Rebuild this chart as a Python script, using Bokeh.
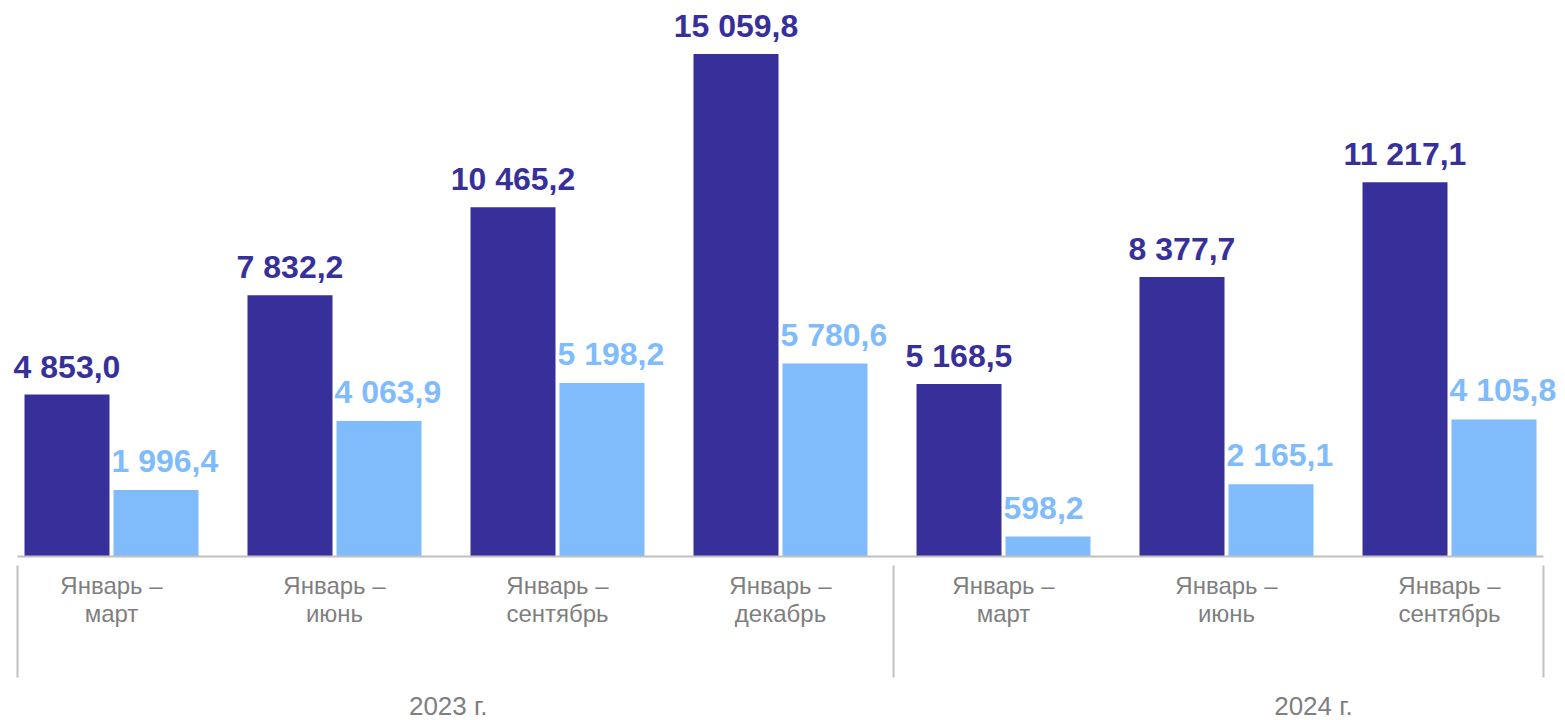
from bokeh.plotting import figure
from bokeh.models import ColumnDataSource, Range1d
from bokeh.core.properties import value
from bokeh.embed import file_html
from bokeh.resources import INLINE

# ---------------- data ----------------
periods = ["Январь –\nмарт", "Январь –\nиюнь", "Январь –\nсентябрь", "Январь –\nдекабрь",
           "Январь –\nмарт", "Январь –\nиюнь", "Январь –\nсентябрь"]
years = ["2023 г.", "2024 г."]
year_groups = [[0, 1, 2, 3], [4, 5, 6]]
series_dark = [4853.0, 7832.2, 10465.2, 15059.8, 5168.5, 8377.7, 11217.1]
series_light = [1996.4, 4063.9, 5198.2, 5780.6, 598.2, 2165.1, 4105.8]

# ---------------- layout / style ----------------
W, H = 1565, 720
DARK = "#37309A"
LIGHT = "#80BCFC"
GRAY = "#7F7F7F"
RULE = "#C0C0C0"
FONT = "Liberation Sans"

GROUP_PX = 223.0           # pixels per category
BAR_W = 85.0 / GROUP_PX    # bar width in category units
HALF = 44.5 / GROUP_PX     # offset of each bar from category centre
UNITS_PER_PX = 29.967      # y data units per pixel
BASE_PX = 556              # baseline distance from top of plot

x_start = -111.0 / GROUP_PX
x_end = x_start + W / GROUP_PX
y_start = -(H - BASE_PX) * UNITS_PER_PX
y_end = BASE_PX * UNITS_PER_PX


def px_to_y(px_below_base):
    return -px_below_base * UNITS_PER_PX


def fmt(v):
    return f"{v:,.1f}".replace(",", " ").replace(".", ",")


idx = list(range(len(periods)))
src = ColumnDataSource(dict(
    xd=[i - HALF for i in idx],
    xl=[i + HALF for i in idx],
    xl_left=[i + HALF - BAR_W / 2 for i in idx],
    dark=series_dark,
    light=series_light,
    dark_lbl=[fmt(v) for v in series_dark],
    light_lbl=[fmt(v) for v in series_light],
    line1=[p.split("\n")[0] for p in periods],
    line2=[p.split("\n")[1] for p in periods],
    xc=idx,
    zero=[0] * len(idx),
))

p = figure(width=W, height=H, output_backend="svg", toolbar_location=None,
           x_range=Range1d(x_start, x_end), y_range=Range1d(y_start, y_end),
           min_border=0, outline_line_color=None)
p.axis.visible = False
p.grid.visible = False
p.background_fill_color = "white"

p.vbar(x="xd", top="dark", bottom=0, width=BAR_W, source=src,
       fill_color=DARK, line_color=None)
p.vbar(x="xl", top="light", bottom=0, width=BAR_W, source=src,
       fill_color=LIGHT, line_color=None)

# value labels
p.text(x="xd", y="dark", text="dark_lbl", source=src, text_align="center",
       text_baseline="alphabetic", y_offset=-28, text_font=value(FONT),
       text_font_style="bold", text_font_size="32px", text_color=DARK)
p.text(x="xl_left", y="light", text="light_lbl", source=src, text_align="left",
       text_baseline="alphabetic", y_offset=-29, x_offset=-2, text_font=value(FONT),
       text_font_style="bold", text_font_size="32px", text_color=LIGHT)

# category labels
p.text(x="xc", y="zero", text="line1", source=src, text_align="center",
       text_baseline="alphabetic", y_offset=29, text_font=value(FONT),
       text_font_size="24px", text_color=GRAY)
p.text(x="xc", y="zero", text="line2", source=src, text_align="center",
       text_baseline="alphabetic", y_offset=57, text_font=value(FONT),
       text_font_size="24px", text_color=GRAY)

# baseline and separators
sep_left = idx[0] - 0.4215
sep_mid = year_groups[1][0] - 0.493
sep_right = idx[-1] + 0.4215
p.segment(x0=[sep_left], y0=[0], x1=[sep_right], y1=[0], line_color=RULE, line_width=2)
p.segment(x0=[sep_left, sep_mid, sep_right], y0=[px_to_y(9)] * 3,
          x1=[sep_left, sep_mid, sep_right], y1=[px_to_y(121)] * 3,
          line_color=RULE, line_width=2)

# year labels
year_x = [1.51, 5.39]
p.text(x=year_x, y=[0, 0], text=years, text_align="center", text_baseline="alphabetic",
       y_offset=149, text_font=value(FONT), text_font_size="26px", text_color=GRAY)

open("out.html", "w").write(file_html(p, INLINE))
